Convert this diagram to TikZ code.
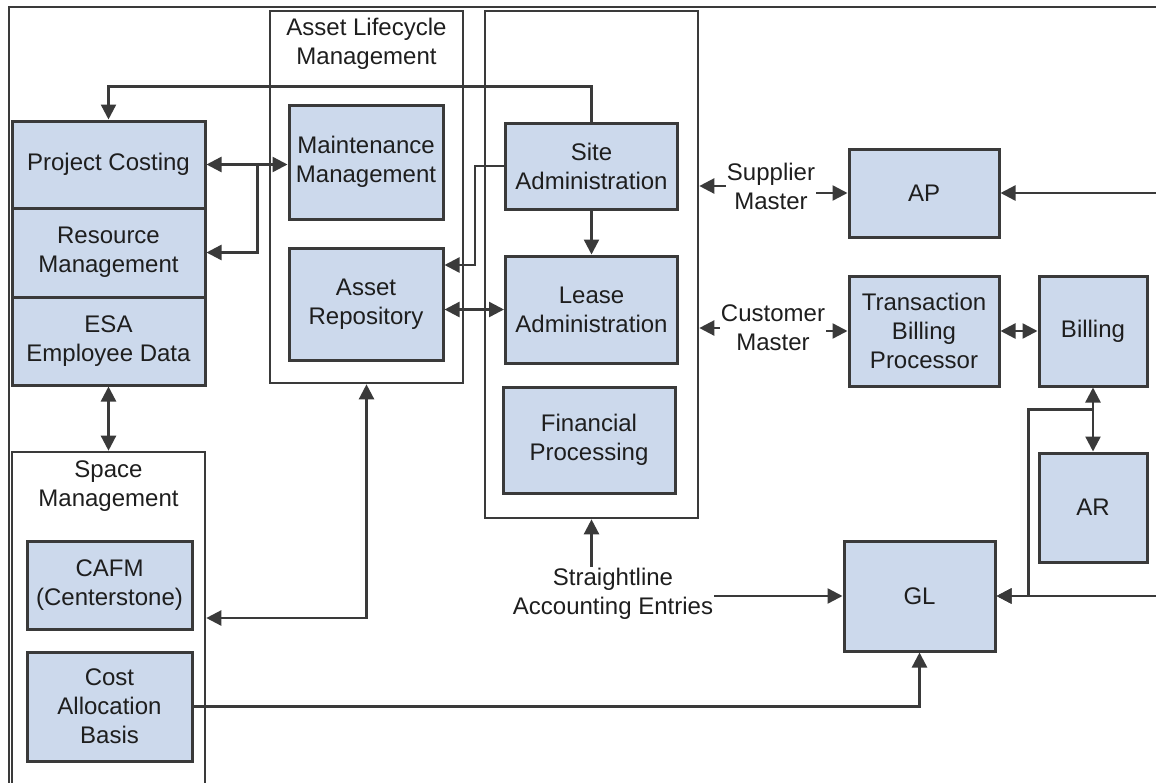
\documentclass[tikz,border=0pt]{standalone}
\usepackage{fontspec}
\setmainfont{Liberation Sans}
\usetikzlibrary{arrows.meta}
\definecolor{boxblue}{RGB}{204,217,236}
\definecolor{linegray}{RGB}{58,58,58}
\definecolor{textgray}{RGB}{30,30,30}

\begin{document}
\begin{tikzpicture}[x=1pt, y=-1pt, font=\fontsize{24}{29}\selectfont, text=textgray,
    >={Triangle[length=15pt,width=15pt]},
    box/.style={draw=linegray, line width=3pt, fill=boxblue, align=center, inner sep=0pt},
    group/.style={draw=linegray, line width=2.6pt, inner sep=0pt},
    lbl/.style={align=center, inner sep=1pt},
    conn/.style={draw=linegray, line width=2.4pt}]
    \path[use as bounding box, clip] (0,0) rectangle (1156,782);
    \draw[linegray, line width=2pt] (9,790) -- (9,7) -- (1160,7);

    \node (pc)  at (108.5,164.5) [box, minimum width=193pt, minimum height=87pt] {Project Costing};
    \node (rm)  at (108.5,252.5) [box, minimum width=193pt, minimum height=89pt] {Resource\\Management};
    \node (esa) at (108.5,341)   [box, minimum width=193pt, minimum height=88pt] {ESA\\Employee Data};

    \node (space)  at (108.5,626) [group, minimum width=193pt, minimum height=348pt] {};
    \node (spacet) at (108.5,486) [lbl] {Space\\Management};
    \node (cafm)   at (109.5,585)   [box, minimum width=165pt, minimum height=88pt] {CAFM\\(Centerstone)};
    \node (cab)    at (109.5,706.5) [box, minimum width=165pt, minimum height=109pt] {Cost\\Allocation\\Basis};

    \node (alm)  at (366.5,197)  [group, minimum width=193pt, minimum height=372pt] {};
    \node (almt) at (366.5,43.5) [lbl] {Asset Lifecycle\\Management};
    \node (mm)   at (366,162) [box, minimum width=154pt, minimum height=114pt] {Maintenance\\Management};
    \node (ar)   at (366,304) [box, minimum width=154pt, minimum height=112pt] {Asset\\Repository};

    \node (lease) at (591.5,264.5) [group, minimum width=213pt, minimum height=507pt] {};
    \node (sa) at (591.5,166)   [box, minimum width=172pt, minimum height=86pt] {Site\\Administration};
    \node (la) at (591.5,309.5) [box, minimum width=172pt, minimum height=107pt] {Lease\\Administration};
    \node (fp) at (589,440)     [box, minimum width=172pt, minimum height=106pt] {Financial\\Processing};

    \node (ap)   at (924,193)    [box, minimum width=150pt, minimum height=88pt] {AP};
    \node (tbp)  at (924,331)    [box, minimum width=150pt, minimum height=110pt] {Transaction\\Billing\\Processor};
    \node (bill) at (1093,331)   [box, minimum width=108pt, minimum height=110pt] {Billing};
    \node (arec) at (1093,507.5) [box, minimum width=108pt, minimum height=109pt] {AR};
    \node (gl)   at (919.5,596)  [box, minimum width=151pt, minimum height=110pt] {GL};

    \node (supm) at (771,186) [lbl] {Supplier\\Master};
    \node (cusm) at (773,328) [lbl] {Customer\\Master};
    \node (sle)  at (613,594) [lbl] {Straightline\\Accounting Entries};

    \coordinate (apr) at (1160,193);
    \coordinate (glr) at (1160,596);

    \draw[conn,->] (sa.north) -- ++(0,-35) -| (pc.north);
    \draw[conn,<->] (pc.east) -- (pc.east -| mm.west);
    \draw[conn,->] ([xshift=51pt]pc.east) |- (rm.east);
    \draw[conn,->] (sa.west) -- ++(-29,0) |- ([yshift=39pt]ar.east);
    \draw[conn,->] (sa.south) -- (la.north);
    \draw[conn,<->] (la.west -| ar.east) -- (la.west);
    \draw[conn,->] (supm.west) -- (supm.west -| lease.east);
    \draw[conn,->] (ap.west -| supm.east) -- (ap.west);
    \draw[conn,->] (cusm.west) -- (cusm.west -| lease.east);
    \draw[conn,->] (tbp.west -| cusm.east) -- (tbp.west);
    \draw[conn,->] (apr) -- (ap.east);
    \draw[conn,<->] (tbp.east) -- (bill.west);
    \draw[conn,<->] (bill.south) -- (arec.north);
    \draw[conn,->] ([yshift=-22pt]bill.south) -| ([xshift=32pt]gl.east) -- (gl.east);
    \draw[conn,->] (glr) -- (gl.east);
    \draw[conn,->] (gl.west -| sle.east) -- (gl.west);
    \draw[conn,->] (sle.north -| lease.south) -- (lease.south);
    \draw[conn,->] (cab.east) -| (gl.south);
    \draw[conn,<->] ([yshift=8pt]space.east) -| (alm.south);
    \draw[conn,<->] (esa.south) -- (space.north);
\end{tikzpicture}
\end{document}
